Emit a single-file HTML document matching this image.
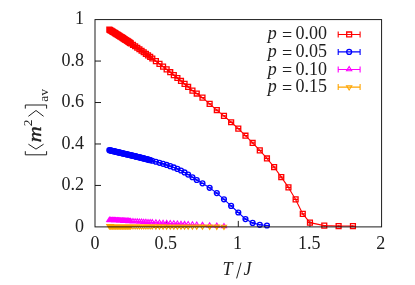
<!DOCTYPE html>
<html>
<head>
<meta charset="utf-8">
<title>Magnetisation vs temperature</title>
<style>
html, body { margin: 0; padding: 0; background: #fff; }
body { width: 415px; height: 285px; overflow: hidden; font-family: "Liberation Serif", serif; }
svg { display: block; will-change: transform; }
</style>
</head>
<body>
<svg width="415" height="285" viewBox="0 0 415 285">
<rect width="415" height="285" fill="#fff"/>
<path d="M95 185.44h6M95 143.98h6M95 102.52h6M95 61.06h6M166.65 226.9v-6M238.3 226.9v-6M309.95 226.9v-6" fill="none" stroke="#111" stroke-width="0.95"/>
<polyline points="109.33,29.61 110.05,30.05 110.76,30.48 111.48,30.92 112.2,31.36 112.91,31.8 113.63,32.24 114.35,32.69 115.06,33.13 115.78,33.58 116.5,34.03 117.21,34.48 117.93,34.93 118.64,35.39 119.36,35.84 120.08,36.3 120.79,36.76 121.51,37.22 122.23,37.68 122.94,38.14 123.66,38.61 124.38,39.07 125.09,39.54 125.81,40.01 126.53,40.48 127.24,40.96 127.96,41.43 128.68,41.91 129.39,42.38 130.11,42.86 130.82,43.34 132.97,44.8 135.12,46.26 137.27,47.74 139.42,49.24 141.57,50.74 143.72,52.27 145.87,53.8 148.02,55.36 150.17,56.92 152.32,58.5 155.9,61.17 159.49,63.87 163.07,66.62 166.65,69.4 170.23,72.22 173.81,75.09 177.4,77.99 180.98,80.93 184.56,83.91 188.15,86.93 192.44,90.61 196.74,93.53 202.48,97.66 209.64,103.87 216.81,110.07 223.97,115.86 231.13,122.27 238.3,128.58 245.47,135.71 252.63,142.95 259.79,150.4 266.96,158.46 274.12,167.05 281.29,177.07 288.46,187.41 295.62,199.41 302.78,213.89 309.95,222.65 324.28,225.66 338.61,226.07 352.94,226.07" fill="none" stroke="#ff0000" stroke-width="1.1" stroke-linejoin="round"/>
<path d="M109.33 29.61h0M110.05 30.05h0M110.76 30.48h0M111.48 30.92h0M112.2 31.36h0M112.91 31.8h0M113.63 32.24h0M114.35 32.69h0M115.06 33.13h0M115.78 33.58h0M116.5 34.03h0M117.21 34.48h0M117.93 34.93h0M118.64 35.39h0M119.36 35.84h0M120.08 36.3h0M120.79 36.76h0M121.51 37.22h0M122.23 37.68h0M122.94 38.14h0M123.66 38.61h0M124.38 39.07h0M125.09 39.54h0M125.81 40.01h0M126.53 40.48h0M127.24 40.96h0M127.96 41.43h0M128.68 41.91h0M129.39 42.38h0M130.11 42.86h0M130.82 43.34h0M132.97 44.8h0M135.12 46.26h0M137.27 47.74h0M139.42 49.24h0M141.57 50.74h0M143.72 52.27h0M145.87 53.8h0M148.02 55.36h0M150.17 56.92h0M152.32 58.5h0M155.9 61.17h0M159.49 63.87h0M163.07 66.62h0M166.65 69.4h0M170.23 72.22h0M173.81 75.09h0M177.4 77.99h0M180.98 80.93h0M184.56 83.91h0M188.15 86.93h0M192.44 90.61h0M196.74 93.53h0M202.48 97.66h0M209.64 103.87h0M216.81 110.07h0M223.97 115.86h0M231.13 122.27h0M238.3 128.58h0M245.47 135.71h0M252.63 142.95h0M259.79 150.4h0M266.96 158.46h0M274.12 167.05h0M281.29 177.07h0M288.46 187.41h0M295.62 199.41h0M302.78 213.89h0M309.95 222.65h0M324.28 225.66h0M338.61 226.07h0M352.94 226.07h0" fill="none" stroke="#ff0000" stroke-width="1.5" stroke-linecap="round"/>
<path d="M106.88 29.61h4.9M106.88 27.16h4.9v4.9h-4.9zM107.6 30.05h4.9M107.6 27.6h4.9v4.9h-4.9zM108.31 30.48h4.9M108.31 28.03h4.9v4.9h-4.9zM109.03 30.92h4.9M109.03 28.47h4.9v4.9h-4.9zM109.75 31.36h4.9M109.75 28.91h4.9v4.9h-4.9zM110.46 31.8h4.9M110.46 29.35h4.9v4.9h-4.9zM111.18 32.24h4.9M111.18 29.79h4.9v4.9h-4.9zM111.9 32.69h4.9M111.9 30.24h4.9v4.9h-4.9zM112.61 33.13h4.9M112.61 30.68h4.9v4.9h-4.9zM113.33 33.58h4.9M113.33 31.13h4.9v4.9h-4.9zM114.05 34.03h4.9M114.05 31.58h4.9v4.9h-4.9zM114.76 34.48h4.9M114.76 32.03h4.9v4.9h-4.9zM115.48 34.93h4.9M115.48 32.48h4.9v4.9h-4.9zM116.19 35.39h4.9M116.19 32.94h4.9v4.9h-4.9zM116.91 35.84h4.9M116.91 33.39h4.9v4.9h-4.9zM117.63 36.3h4.9M117.63 33.85h4.9v4.9h-4.9zM118.34 36.76h4.9M118.34 34.31h4.9v4.9h-4.9zM119.06 37.22h4.9M119.06 34.77h4.9v4.9h-4.9zM119.78 37.68h4.9M119.78 35.23h4.9v4.9h-4.9zM120.49 38.14h4.9M120.49 35.69h4.9v4.9h-4.9zM121.21 38.61h4.9M121.21 36.16h4.9v4.9h-4.9zM121.93 39.07h4.9M121.93 36.62h4.9v4.9h-4.9zM122.64 39.54h4.9M122.64 37.09h4.9v4.9h-4.9zM123.36 40.01h4.9M123.36 37.56h4.9v4.9h-4.9zM124.08 40.48h4.9M124.08 38.03h4.9v4.9h-4.9zM124.79 40.96h4.9M124.79 38.51h4.9v4.9h-4.9zM125.51 41.43h4.9M125.51 38.98h4.9v4.9h-4.9zM126.23 41.91h4.9M126.23 39.46h4.9v4.9h-4.9zM126.94 42.38h4.9M126.94 39.93h4.9v4.9h-4.9zM127.66 42.86h4.9M127.66 40.41h4.9v4.9h-4.9zM128.38 43.34h4.9M128.38 40.89h4.9v4.9h-4.9zM130.52 44.8h4.9M130.52 42.35h4.9v4.9h-4.9zM132.67 46.26h4.9M132.67 43.81h4.9v4.9h-4.9zM134.82 47.74h4.9M134.82 45.29h4.9v4.9h-4.9zM136.97 49.24h4.9M136.97 46.79h4.9v4.9h-4.9zM139.12 50.74h4.9M139.12 48.29h4.9v4.9h-4.9zM141.27 52.27h4.9M141.27 49.82h4.9v4.9h-4.9zM143.42 53.8h4.9M143.42 51.35h4.9v4.9h-4.9zM145.57 55.36h4.9M145.57 52.91h4.9v4.9h-4.9zM147.72 56.92h4.9M147.72 54.47h4.9v4.9h-4.9zM149.87 58.5h4.9M149.87 56.05h4.9v4.9h-4.9zM153.45 61.17h4.9M153.45 58.72h4.9v4.9h-4.9zM157.04 63.87h4.9M157.04 61.42h4.9v4.9h-4.9zM160.62 66.62h4.9M160.62 64.17h4.9v4.9h-4.9zM164.2 69.4h4.9M164.2 66.95h4.9v4.9h-4.9zM167.78 72.22h4.9M167.78 69.77h4.9v4.9h-4.9zM171.37 75.09h4.9M171.37 72.64h4.9v4.9h-4.9zM174.95 77.99h4.9M174.95 75.54h4.9v4.9h-4.9zM178.53 80.93h4.9M178.53 78.48h4.9v4.9h-4.9zM182.11 83.91h4.9M182.11 81.46h4.9v4.9h-4.9zM185.7 86.93h4.9M185.7 84.48h4.9v4.9h-4.9zM189.99 90.61h4.9M189.99 88.16h4.9v4.9h-4.9zM194.29 93.53h4.9M194.29 91.08h4.9v4.9h-4.9zM200.03 97.66h4.9M200.03 95.21h4.9v4.9h-4.9zM207.19 103.87h4.9M207.19 101.42h4.9v4.9h-4.9zM214.36 110.07h4.9M214.36 107.62h4.9v4.9h-4.9zM221.52 115.86h4.9M221.52 113.41h4.9v4.9h-4.9zM228.69 122.27h4.9M228.69 119.82h4.9v4.9h-4.9zM235.85 128.58h4.9M235.85 126.13h4.9v4.9h-4.9zM243.02 135.71h4.9M243.02 133.26h4.9v4.9h-4.9zM250.18 142.95h4.9M250.18 140.5h4.9v4.9h-4.9zM257.34 150.4h4.9M257.34 147.95h4.9v4.9h-4.9zM264.51 158.46h4.9M264.51 156.01h4.9v4.9h-4.9zM271.68 167.05h4.9M271.68 164.6h4.9v4.9h-4.9zM278.84 177.07h4.9M278.84 174.62h4.9v4.9h-4.9zM286.01 187.41h4.9M286.01 184.96h4.9v4.9h-4.9zM293.17 199.41h4.9M293.17 196.96h4.9v4.9h-4.9zM300.33 213.89h4.9M300.33 211.44h4.9v4.9h-4.9zM307.5 222.65h4.9M307.5 220.2h4.9v4.9h-4.9zM321.83 225.66h4.9M321.83 223.21h4.9v4.9h-4.9zM336.16 226.07h4.9M336.16 223.62h4.9v4.9h-4.9zM350.49 226.07h4.9M350.49 223.62h4.9v4.9h-4.9z" fill="none" stroke="#ff0000" stroke-width="1.3"/>
<polyline points="109.33,150.2 110.05,150.37 110.76,150.53 111.48,150.7 112.2,150.87 112.91,151.03 113.63,151.2 114.35,151.37 115.06,151.54 115.78,151.71 116.5,151.87 117.21,152.04 117.93,152.21 118.64,152.38 119.36,152.55 120.08,152.72 120.79,152.89 121.51,153.06 122.23,153.23 122.94,153.4 123.66,153.57 124.38,153.74 125.09,153.91 125.81,154.08 126.53,154.25 127.24,154.42 127.96,154.59 128.68,154.76 129.39,154.93 130.11,155.09 130.82,155.26 131.54,155.43 132.26,155.6 132.97,155.77 133.69,155.94 134.41,156.11 135.12,156.28 135.84,156.46 136.56,156.63 137.27,156.8 137.99,156.98 138.71,157.15 139.42,157.33 140.14,157.51 140.86,157.69 141.57,157.87 142.29,158.06 143.01,158.24 143.72,158.43 144.44,158.61 145.16,158.8 145.87,158.99 146.59,159.18 147.3,159.37 148.02,159.57 148.74,159.76 149.45,159.96 150.17,160.15 152.32,160.75 155.9,161.76 159.49,162.8 163.07,163.86 166.65,164.96 170.23,166.15 173.81,167.46 177.4,168.89 180.98,170.51 184.56,172.47 188.15,174.6 192.44,177.23 196.74,179.99 202.48,183.35 209.64,187.82 216.81,193.11 223.97,199.31 231.13,205.9 238.3,212.49 245.47,219.11 252.63,222.9 259.79,224.81 266.96,225.49" fill="none" stroke="#0000ff" stroke-width="1.1" stroke-linejoin="round"/>
<path d="M109.33 150.2h0M110.05 150.37h0M110.76 150.53h0M111.48 150.7h0M112.2 150.87h0M112.91 151.03h0M113.63 151.2h0M114.35 151.37h0M115.06 151.54h0M115.78 151.71h0M116.5 151.87h0M117.21 152.04h0M117.93 152.21h0M118.64 152.38h0M119.36 152.55h0M120.08 152.72h0M120.79 152.89h0M121.51 153.06h0M122.23 153.23h0M122.94 153.4h0M123.66 153.57h0M124.38 153.74h0M125.09 153.91h0M125.81 154.08h0M126.53 154.25h0M127.24 154.42h0M127.96 154.59h0M128.68 154.76h0M129.39 154.93h0M130.11 155.09h0M130.82 155.26h0M131.54 155.43h0M132.26 155.6h0M132.97 155.77h0M133.69 155.94h0M134.41 156.11h0M135.12 156.28h0M135.84 156.46h0M136.56 156.63h0M137.27 156.8h0M137.99 156.98h0M138.71 157.15h0M139.42 157.33h0M140.14 157.51h0M140.86 157.69h0M141.57 157.87h0M142.29 158.06h0M143.01 158.24h0M143.72 158.43h0M144.44 158.61h0M145.16 158.8h0M145.87 158.99h0M146.59 159.18h0M147.3 159.37h0M148.02 159.57h0M148.74 159.76h0M149.45 159.96h0M150.17 160.15h0M152.32 160.75h0M155.9 161.76h0M159.49 162.8h0M163.07 163.86h0M166.65 164.96h0M170.23 166.15h0M173.81 167.46h0M177.4 168.89h0M180.98 170.51h0M184.56 172.47h0M188.15 174.6h0M192.44 177.23h0M196.74 179.99h0M202.48 183.35h0M209.64 187.82h0M216.81 193.11h0M223.97 199.31h0M231.13 205.9h0M238.3 212.49h0M245.47 219.11h0M252.63 222.9h0M259.79 224.81h0M266.96 225.49h0" fill="none" stroke="#0000ff" stroke-width="1.5" stroke-linecap="round"/>
<path d="M106.88 150.2h4.9M107.6 150.37h4.9M108.31 150.53h4.9M109.03 150.7h4.9M109.75 150.87h4.9M110.46 151.03h4.9M111.18 151.2h4.9M111.9 151.37h4.9M112.61 151.54h4.9M113.33 151.71h4.9M114.05 151.87h4.9M114.76 152.04h4.9M115.48 152.21h4.9M116.19 152.38h4.9M116.91 152.55h4.9M117.63 152.72h4.9M118.34 152.89h4.9M119.06 153.06h4.9M119.78 153.23h4.9M120.49 153.4h4.9M121.21 153.57h4.9M121.93 153.74h4.9M122.64 153.91h4.9M123.36 154.08h4.9M124.08 154.25h4.9M124.79 154.42h4.9M125.51 154.59h4.9M126.23 154.76h4.9M126.94 154.93h4.9M127.66 155.09h4.9M128.38 155.26h4.9M129.09 155.43h4.9M129.81 155.6h4.9M130.52 155.77h4.9M131.24 155.94h4.9M131.96 156.11h4.9M132.67 156.28h4.9M133.39 156.46h4.9M134.11 156.63h4.9M134.82 156.8h4.9M135.54 156.98h4.9M136.26 157.15h4.9M136.97 157.33h4.9M137.69 157.51h4.9M138.41 157.69h4.9M139.12 157.87h4.9M139.84 158.06h4.9M140.56 158.24h4.9M141.27 158.43h4.9M141.99 158.61h4.9M142.71 158.8h4.9M143.42 158.99h4.9M144.14 159.18h4.9M144.85 159.37h4.9M145.57 159.57h4.9M146.29 159.76h4.9M147 159.96h4.9M147.72 160.15h4.9M149.87 160.75h4.9M153.45 161.76h4.9M157.04 162.8h4.9M160.62 163.86h4.9M164.2 164.96h4.9M167.78 166.15h4.9M171.37 167.46h4.9M174.95 168.89h4.9M178.53 170.51h4.9M182.11 172.47h4.9M185.7 174.6h4.9M189.99 177.23h4.9M194.29 179.99h4.9M200.03 183.35h4.9M207.19 187.82h4.9M214.36 193.11h4.9M221.52 199.31h4.9M228.69 205.9h4.9M235.85 212.49h4.9M243.02 219.11h4.9M250.18 222.9h4.9M257.34 224.81h4.9M264.51 225.49h4.9" fill="none" stroke="#0000ff" stroke-width="1.1"/>
<g fill="none" stroke="#0000ff" stroke-width="1.3">
<circle cx="109.33" cy="150.2" r="2.45"/>
<circle cx="110.05" cy="150.37" r="2.45"/>
<circle cx="110.76" cy="150.53" r="2.45"/>
<circle cx="111.48" cy="150.7" r="2.45"/>
<circle cx="112.2" cy="150.87" r="2.45"/>
<circle cx="112.91" cy="151.03" r="2.45"/>
<circle cx="113.63" cy="151.2" r="2.45"/>
<circle cx="114.35" cy="151.37" r="2.45"/>
<circle cx="115.06" cy="151.54" r="2.45"/>
<circle cx="115.78" cy="151.71" r="2.45"/>
<circle cx="116.5" cy="151.87" r="2.45"/>
<circle cx="117.21" cy="152.04" r="2.45"/>
<circle cx="117.93" cy="152.21" r="2.45"/>
<circle cx="118.64" cy="152.38" r="2.45"/>
<circle cx="119.36" cy="152.55" r="2.45"/>
<circle cx="120.08" cy="152.72" r="2.45"/>
<circle cx="120.79" cy="152.89" r="2.45"/>
<circle cx="121.51" cy="153.06" r="2.45"/>
<circle cx="122.23" cy="153.23" r="2.45"/>
<circle cx="122.94" cy="153.4" r="2.45"/>
<circle cx="123.66" cy="153.57" r="2.45"/>
<circle cx="124.38" cy="153.74" r="2.45"/>
<circle cx="125.09" cy="153.91" r="2.45"/>
<circle cx="125.81" cy="154.08" r="2.45"/>
<circle cx="126.53" cy="154.25" r="2.45"/>
<circle cx="127.24" cy="154.42" r="2.45"/>
<circle cx="127.96" cy="154.59" r="2.45"/>
<circle cx="128.68" cy="154.76" r="2.45"/>
<circle cx="129.39" cy="154.93" r="2.45"/>
<circle cx="130.11" cy="155.09" r="2.45"/>
<circle cx="130.82" cy="155.26" r="2.45"/>
<circle cx="131.54" cy="155.43" r="2.45"/>
<circle cx="132.26" cy="155.6" r="2.45"/>
<circle cx="132.97" cy="155.77" r="2.45"/>
<circle cx="133.69" cy="155.94" r="2.45"/>
<circle cx="134.41" cy="156.11" r="2.45"/>
<circle cx="135.12" cy="156.28" r="2.45"/>
<circle cx="135.84" cy="156.46" r="2.45"/>
<circle cx="136.56" cy="156.63" r="2.45"/>
<circle cx="137.27" cy="156.8" r="2.45"/>
<circle cx="137.99" cy="156.98" r="2.45"/>
<circle cx="138.71" cy="157.15" r="2.45"/>
<circle cx="139.42" cy="157.33" r="2.45"/>
<circle cx="140.14" cy="157.51" r="2.45"/>
<circle cx="140.86" cy="157.69" r="2.45"/>
<circle cx="141.57" cy="157.87" r="2.45"/>
<circle cx="142.29" cy="158.06" r="2.45"/>
<circle cx="143.01" cy="158.24" r="2.45"/>
<circle cx="143.72" cy="158.43" r="2.45"/>
<circle cx="144.44" cy="158.61" r="2.45"/>
<circle cx="145.16" cy="158.8" r="2.45"/>
<circle cx="145.87" cy="158.99" r="2.45"/>
<circle cx="146.59" cy="159.18" r="2.45"/>
<circle cx="147.3" cy="159.37" r="2.45"/>
<circle cx="148.02" cy="159.57" r="2.45"/>
<circle cx="148.74" cy="159.76" r="2.45"/>
<circle cx="149.45" cy="159.96" r="2.45"/>
<circle cx="150.17" cy="160.15" r="2.45"/>
<circle cx="152.32" cy="160.75" r="2.45"/>
<circle cx="155.9" cy="161.76" r="2.45"/>
<circle cx="159.49" cy="162.8" r="2.45"/>
<circle cx="163.07" cy="163.86" r="2.45"/>
<circle cx="166.65" cy="164.96" r="2.45"/>
<circle cx="170.23" cy="166.15" r="2.45"/>
<circle cx="173.81" cy="167.46" r="2.45"/>
<circle cx="177.4" cy="168.89" r="2.45"/>
<circle cx="180.98" cy="170.51" r="2.45"/>
<circle cx="184.56" cy="172.47" r="2.45"/>
<circle cx="188.15" cy="174.6" r="2.45"/>
<circle cx="192.44" cy="177.23" r="2.45"/>
<circle cx="196.74" cy="179.99" r="2.45"/>
<circle cx="202.48" cy="183.35" r="2.45"/>
<circle cx="209.64" cy="187.82" r="2.45"/>
<circle cx="216.81" cy="193.11" r="2.45"/>
<circle cx="223.97" cy="199.31" r="2.45"/>
<circle cx="231.13" cy="205.9" r="2.45"/>
<circle cx="238.3" cy="212.49" r="2.45"/>
<circle cx="245.47" cy="219.11" r="2.45"/>
<circle cx="252.63" cy="222.9" r="2.45"/>
<circle cx="259.79" cy="224.81" r="2.45"/>
<circle cx="266.96" cy="225.49" r="2.45"/>
</g>
<polyline points="109.33,220.27 110.05,220.3 110.76,220.34 111.48,220.38 112.2,220.42 112.91,220.46 113.63,220.5 114.35,220.53 115.06,220.57 115.78,220.61 116.5,220.65 117.21,220.69 117.93,220.73 118.64,220.76 119.36,220.8 120.08,220.84 120.79,220.88 121.51,220.92 122.23,220.96 122.94,221 123.66,221.03 124.38,221.07 125.09,221.11 125.81,221.15 126.53,221.19 127.24,221.23 127.96,221.26 128.68,221.3 129.39,221.34 130.11,221.38 130.82,221.42 132.97,221.53 135.12,221.65 137.27,221.76 139.42,221.88 141.57,221.99 143.72,222.11 145.87,222.22 148.02,222.34 150.17,222.45 152.32,222.57 155.9,222.76 159.49,222.95 163.07,223.14 166.65,223.33 170.23,223.53 173.81,223.72 177.4,223.91 180.98,224.1 184.56,224.29 188.15,224.48 192.44,224.72 196.74,224.95 202.48,225.25 209.64,225.64 216.81,226.02 223.97,226.4" fill="none" stroke="#ff00ff" stroke-width="1.1" stroke-linejoin="round"/>
<path d="M106.88 220.27h4.9M109.33 217.35L106.73 221.57L111.93 221.57zM107.6 220.3h4.9M110.05 217.39L107.45 221.6L112.65 221.6zM108.31 220.34h4.9M110.76 217.43L108.16 221.64L113.36 221.64zM109.03 220.38h4.9M111.48 217.47L108.88 221.68L114.08 221.68zM109.75 220.42h4.9M112.2 217.51L109.6 221.72L114.8 221.72zM110.46 220.46h4.9M112.91 217.55L110.31 221.76L115.51 221.76zM111.18 220.5h4.9M113.63 217.58L111.03 221.8L116.23 221.8zM111.9 220.53h4.9M114.35 217.62L111.75 221.83L116.95 221.83zM112.61 220.57h4.9M115.06 217.66L112.46 221.87L117.66 221.87zM113.33 220.61h4.9M115.78 217.7L113.18 221.91L118.38 221.91zM114.05 220.65h4.9M116.5 217.74L113.9 221.95L119.09 221.95zM114.76 220.69h4.9M117.21 217.78L114.61 221.99L119.81 221.99zM115.48 220.73h4.9M117.93 217.81L115.33 222.03L120.53 222.03zM116.19 220.76h4.9M118.64 217.85L116.04 222.06L121.24 222.06zM116.91 220.8h4.9M119.36 217.89L116.76 222.1L121.96 222.1zM117.63 220.84h4.9M120.08 217.93L117.48 222.14L122.68 222.14zM118.34 220.88h4.9M120.79 217.97L118.19 222.18L123.39 222.18zM119.06 220.92h4.9M121.51 218.01L118.91 222.22L124.11 222.22zM119.78 220.96h4.9M122.23 218.04L119.63 222.26L124.83 222.26zM120.49 221h4.9M122.94 218.08L120.34 222.3L125.54 222.3zM121.21 221.03h4.9M123.66 218.12L121.06 222.33L126.26 222.33zM121.93 221.07h4.9M124.38 218.16L121.78 222.37L126.98 222.37zM122.64 221.11h4.9M125.09 218.2L122.49 222.41L127.69 222.41zM123.36 221.15h4.9M125.81 218.24L123.21 222.45L128.41 222.45zM124.08 221.19h4.9M126.53 218.27L123.93 222.49L129.13 222.49zM124.79 221.23h4.9M127.24 218.31L124.64 222.53L129.84 222.53zM125.51 221.26h4.9M127.96 218.35L125.36 222.56L130.56 222.56zM126.23 221.3h4.9M128.68 218.39L126.08 222.6L131.28 222.6zM126.94 221.34h4.9M129.39 218.43L126.79 222.64L131.99 222.64zM127.66 221.38h4.9M130.11 218.47L127.51 222.68L132.71 222.68zM128.38 221.42h4.9M130.82 218.5L128.22 222.72L133.42 222.72zM130.52 221.53h4.9M132.97 218.62L130.37 222.83L135.57 222.83zM132.67 221.65h4.9M135.12 218.74L132.52 222.95L137.72 222.95zM134.82 221.76h4.9M137.27 218.85L134.67 223.06L139.87 223.06zM136.97 221.88h4.9M139.42 218.97L136.82 223.18L142.02 223.18zM139.12 221.99h4.9M141.57 219.08L138.97 223.29L144.17 223.29zM141.27 222.11h4.9M143.72 219.2L141.12 223.41L146.32 223.41zM143.42 222.22h4.9M145.87 219.31L143.27 223.52L148.47 223.52zM145.57 222.34h4.9M148.02 219.43L145.42 223.64L150.62 223.64zM147.72 222.45h4.9M150.17 219.54L147.57 223.75L152.77 223.75zM149.87 222.57h4.9M152.32 219.66L149.72 223.87L154.92 223.87zM153.45 222.76h4.9M155.9 219.85L153.3 224.06L158.5 224.06zM157.04 222.95h4.9M159.49 220.04L156.89 224.25L162.09 224.25zM160.62 223.14h4.9M163.07 220.23L160.47 224.44L165.67 224.44zM164.2 223.33h4.9M166.65 220.42L164.05 224.63L169.25 224.63zM167.78 223.53h4.9M170.23 220.61L167.63 224.83L172.83 224.83zM171.37 223.72h4.9M173.81 220.81L171.22 225.02L176.41 225.02zM174.95 223.91h4.9M177.4 221L174.8 225.21L180 225.21zM178.53 224.1h4.9M180.98 221.19L178.38 225.4L183.58 225.4zM182.11 224.29h4.9M184.56 221.38L181.96 225.59L187.16 225.59zM185.7 224.48h4.9M188.15 221.57L185.55 225.78L190.75 225.78zM189.99 224.72h4.9M192.44 221.8L189.84 226.02L195.04 226.02zM194.29 224.95h4.9M196.74 222.03L194.14 226.25L199.34 226.25zM200.03 225.25h4.9M202.48 222.34L199.88 226.55L205.08 226.55zM207.19 225.64h4.9M209.64 222.72L207.04 226.94L212.24 226.94zM214.36 226.02h4.9M216.81 223.11L214.21 227.32L219.41 227.32zM221.52 226.4h4.9M223.97 223.49L221.37 227.7L226.57 227.7z" fill="none" stroke="#ff00ff" stroke-width="1.1" stroke-linejoin="miter"/>
<polyline points="109.33,225.97 110.05,225.97 110.76,225.97 111.48,225.98 112.2,225.98 112.91,225.98 113.63,225.99 114.35,225.99 115.06,225.99 115.78,226 116.5,226 117.21,226 117.93,226.01 118.64,226.01 119.36,226.01 120.08,226.02 120.79,226.02 121.51,226.02 122.23,226.03 122.94,226.03 123.66,226.03 124.38,226.04 125.09,226.04 125.81,226.04 126.53,226.04 127.24,226.05 127.96,226.05 128.68,226.05 129.39,226.06 130.11,226.06 130.82,226.06 132.97,226.07 135.12,226.08 137.27,226.09 139.42,226.1 141.57,226.11 143.72,226.12 145.87,226.13 148.02,226.14 150.17,226.15 152.32,226.16 155.9,226.18 159.49,226.19 163.07,226.21 166.65,226.23 170.23,226.24 173.81,226.26 177.4,226.27 180.98,226.29 184.56,226.31 188.15,226.32 192.44,226.34 196.74,226.36 202.48,226.39 209.64,226.42 216.81,226.45 223.97,226.49" fill="none" stroke="#ffa500" stroke-width="1.1" stroke-linejoin="round"/>
<path d="M106.88 225.97h4.9M109.33 228.88L106.73 224.67L111.93 224.67zM107.6 225.97h4.9M110.05 228.88L107.45 224.67L112.65 224.67zM108.31 225.97h4.9M110.76 228.89L108.16 224.67L113.36 224.67zM109.03 225.98h4.9M111.48 228.89L108.88 224.68L114.08 224.68zM109.75 225.98h4.9M112.2 228.89L109.6 224.68L114.8 224.68zM110.46 225.98h4.9M112.91 228.9L110.31 224.68L115.51 224.68zM111.18 225.99h4.9M113.63 228.9L111.03 224.69L116.23 224.69zM111.9 225.99h4.9M114.35 228.9L111.75 224.69L116.95 224.69zM112.61 225.99h4.9M115.06 228.91L112.46 224.69L117.66 224.69zM113.33 226h4.9M115.78 228.91L113.18 224.7L118.38 224.7zM114.05 226h4.9M116.5 228.91L113.9 224.7L119.09 224.7zM114.76 226h4.9M117.21 228.91L114.61 224.7L119.81 224.7zM115.48 226.01h4.9M117.93 228.92L115.33 224.71L120.53 224.71zM116.19 226.01h4.9M118.64 228.92L116.04 224.71L121.24 224.71zM116.91 226.01h4.9M119.36 228.92L116.76 224.71L121.96 224.71zM117.63 226.02h4.9M120.08 228.93L117.48 224.72L122.68 224.72zM118.34 226.02h4.9M120.79 228.93L118.19 224.72L123.39 224.72zM119.06 226.02h4.9M121.51 228.93L118.91 224.72L124.11 224.72zM119.78 226.03h4.9M122.23 228.94L119.63 224.73L124.83 224.73zM120.49 226.03h4.9M122.94 228.94L120.34 224.73L125.54 224.73zM121.21 226.03h4.9M123.66 228.94L121.06 224.73L126.26 224.73zM121.93 226.04h4.9M124.38 228.95L121.78 224.74L126.98 224.74zM122.64 226.04h4.9M125.09 228.95L122.49 224.74L127.69 224.74zM123.36 226.04h4.9M125.81 228.95L123.21 224.74L128.41 224.74zM124.08 226.04h4.9M126.53 228.96L123.93 224.74L129.13 224.74zM124.79 226.05h4.9M127.24 228.96L124.64 224.75L129.84 224.75zM125.51 226.05h4.9M127.96 228.96L125.36 224.75L130.56 224.75zM126.23 226.05h4.9M128.68 228.97L126.08 224.75L131.28 224.75zM126.94 226.06h4.9M129.39 228.97L126.79 224.76L131.99 224.76zM127.66 226.06h4.9M130.11 228.97L127.51 224.76L132.71 224.76zM128.38 226.06h4.9M130.82 228.98L128.22 224.76L133.42 224.76zM130.52 226.07h4.9M132.97 228.99L130.37 224.77L135.57 224.77zM132.67 226.08h4.9M135.12 229L132.52 224.78L137.72 224.78zM134.82 226.09h4.9M137.27 229.01L134.67 224.79L139.87 224.79zM136.97 226.1h4.9M139.42 229.02L136.82 224.8L142.02 224.8zM139.12 226.11h4.9M141.57 229.02L138.97 224.81L144.17 224.81zM141.27 226.12h4.9M143.72 229.03L141.12 224.82L146.32 224.82zM143.42 226.13h4.9M145.87 229.04L143.27 224.83L148.47 224.83zM145.57 226.14h4.9M148.02 229.05L145.42 224.84L150.62 224.84zM147.72 226.15h4.9M150.17 229.06L147.57 224.85L152.77 224.85zM149.87 226.16h4.9M152.32 229.07L149.72 224.86L154.92 224.86zM153.45 226.18h4.9M155.9 229.09L153.3 224.88L158.5 224.88zM157.04 226.19h4.9M159.49 229.11L156.89 224.89L162.09 224.89zM160.62 226.21h4.9M163.07 229.12L160.47 224.91L165.67 224.91zM164.2 226.23h4.9M166.65 229.14L164.05 224.93L169.25 224.93zM167.78 226.24h4.9M170.23 229.15L167.63 224.94L172.83 224.94zM171.37 226.26h4.9M173.81 229.17L171.22 224.96L176.41 224.96zM174.95 226.27h4.9M177.4 229.19L174.8 224.97L180 224.97zM178.53 226.29h4.9M180.98 229.2L178.38 224.99L183.58 224.99zM182.11 226.31h4.9M184.56 229.22L181.96 225.01L187.16 225.01zM185.7 226.32h4.9M188.15 229.24L185.55 225.02L190.75 225.02zM189.99 226.34h4.9M192.44 229.25L189.84 225.04L195.04 225.04zM194.29 226.36h4.9M196.74 229.27L194.14 225.06L199.34 225.06zM200.03 226.39h4.9M202.48 229.3L199.88 225.09L205.08 225.09zM207.19 226.42h4.9M209.64 229.33L207.04 225.12L212.24 225.12zM214.36 226.45h4.9M216.81 229.37L214.21 225.15L219.41 225.15zM221.52 226.49h4.9M223.97 229.4L221.37 225.19L226.57 225.19z" fill="none" stroke="#ffa500" stroke-width="1.1" stroke-linejoin="miter"/>
<rect x="95" y="19.6" width="286.6" height="207.3" fill="none" stroke="#111" stroke-width="0.95"/>
<path d="M338.2 34.45H360.1M338.2 31.45v6M360.1 31.45v6" fill="none" stroke="#ff0000" stroke-width="1.1"/>
<path d="M346.7 32h4.9v4.9h-4.9z" fill="none" stroke="#ff0000" stroke-width="1.3"/>
<path d="M338.2 51.9H360.1M338.2 48.9v6M360.1 48.9v6" fill="none" stroke="#0000ff" stroke-width="1.1"/>
<circle cx="349.15" cy="51.9" r="2.45" fill="none" stroke="#0000ff" stroke-width="1.3"/>
<path d="M338.2 69.5H360.1M338.2 66.5v6M360.1 66.5v6" fill="none" stroke="#ff00ff" stroke-width="1.1"/>
<path d="M349.15 66.59L346.55 70.8L351.75 70.8z" fill="none" stroke="#ff00ff" stroke-width="1.1"/>
<path d="M338.2 87.1H360.1M338.2 84.1v6M360.1 84.1v6" fill="none" stroke="#ffa500" stroke-width="1.1"/>
<path d="M349.15 90.01L346.55 85.8L351.75 85.8z" fill="none" stroke="#ffa500" stroke-width="1.1"/>
<g font-family="'Liberation Serif', serif" font-size="18" fill="#202020">
<text x="84" y="231.5" text-anchor="end">0</text>
<text x="84" y="190.04" text-anchor="end">0.2</text>
<text x="84" y="148.58" text-anchor="end">0.4</text>
<text x="84" y="107.12" text-anchor="end">0.6</text>
<text x="84" y="65.66" text-anchor="end">0.8</text>
<text x="84" y="24.2" text-anchor="end">1</text>
<text x="95" y="248.6" text-anchor="middle">0</text>
<text x="165.85" y="248.6" text-anchor="middle">0.5</text>
<text x="237.5" y="248.6" text-anchor="middle">1</text>
<text x="309.15" y="248.6" text-anchor="middle">1.5</text>
<text x="380.8" y="248.6" text-anchor="middle">2</text>
<text x="222.6" y="275" font-style="italic">T</text>
<text x="243.5" y="275" font-style="italic">J</text>
<path d="M236.6 278.4L241.1 262.6" fill="none" stroke="#202020" stroke-width="1"/>
<path d="M25.3 151.2V154.8H46.6V151.2 M28.4 144.2L36 149.1L43.6 144.2 M28.4 116.3L36 110.5L43.6 116.3 M25.3 108.6V105H46.6V108.6" fill="none" stroke="#202020" stroke-width="1" stroke-linejoin="miter"/>
<text transform="translate(41.4 134.4) rotate(-90) scale(1.13 1)" text-anchor="middle" font-size="19.5" font-style="italic" stroke="#202020" stroke-width="0.35">m</text>
<text transform="translate(32.4 122.8) rotate(-90)" text-anchor="middle" font-size="13.5">2</text>
<text transform="translate(48.1 95.3) rotate(-90)" text-anchor="middle" font-size="13.5">av</text>
<text x="267.8" y="39.45" font-style="italic">p</text>
<text x="282.0" y="41.05">=</text>
<text x="327" y="39.45" text-anchor="end">0.00</text>
<text x="267.8" y="56.9" font-style="italic">p</text>
<text x="282.0" y="58.5">=</text>
<text x="327" y="56.9" text-anchor="end">0.05</text>
<text x="267.8" y="74.5" font-style="italic">p</text>
<text x="282.0" y="76.1">=</text>
<text x="327" y="74.5" text-anchor="end">0.10</text>
<text x="267.8" y="92.1" font-style="italic">p</text>
<text x="282.0" y="93.7">=</text>
<text x="327" y="92.1" text-anchor="end">0.15</text>
</g>
</svg>
</body>
</html>
